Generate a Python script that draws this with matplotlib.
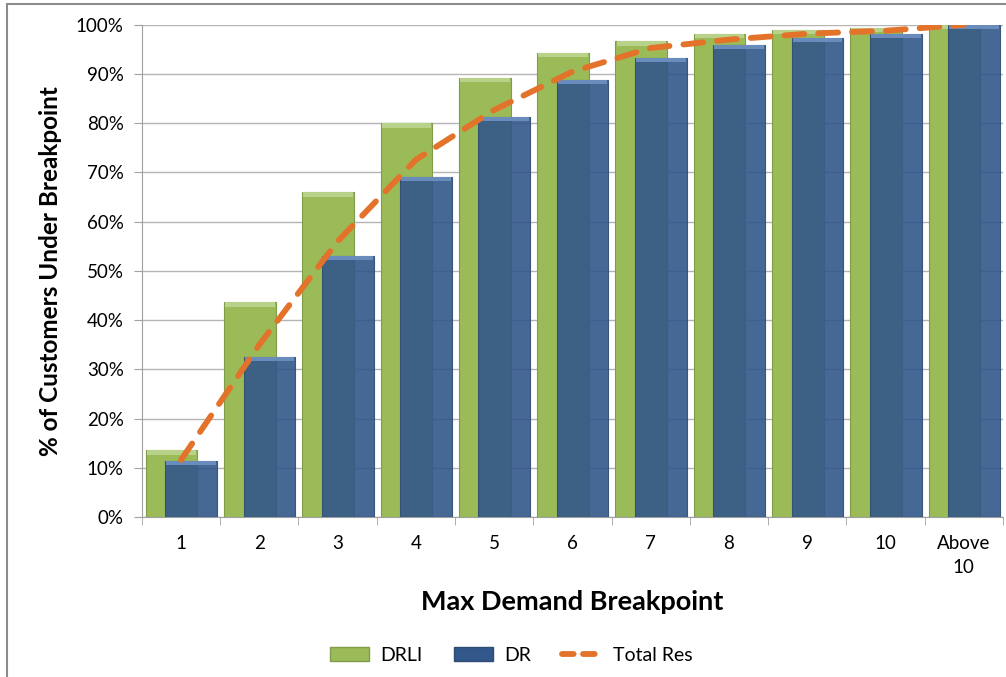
import matplotlib
matplotlib.use('Agg')
import matplotlib.pyplot as plt
import numpy as np
from matplotlib.patches import Rectangle
from matplotlib.lines import Line2D
from matplotlib.ticker import FuncFormatter, FixedLocator

# data (% of customers)
categories = ['1', '2', '3', '4', '5', '6', '7', '8', '9', '10', 'Above\n10']
drli = [13.6, 43.6, 66.0, 80.0, 89.2, 94.3, 96.7, 98.2, 99.0, 99.4, 100.0]
dr = [11.4, 32.5, 53.1, 69.1, 81.3, 88.8, 93.3, 95.9, 97.4, 98.2, 100.0]
total_res = [11.6, 35.0, 56.0, 72.6, 82.7, 90.5, 95.3, 97.0, 98.2, 98.8, 100.0]

plt.rcParams['font.family'] = ['Lato', 'DejaVu Sans']

green = '#9BBB59'
blue = (50 / 255, 87 / 255, 138 / 255)
orange = '#E3722A'

fig = plt.figure(figsize=(10.06, 6.77), dpi=100)
ax = fig.add_axes([0.141, 0.2363, 0.856, 0.727])

x = np.arange(len(categories))
w = 0.66
ax.bar(x - 0.12, drli, width=w, color=green, edgecolor='#809C48', linewidth=0.8, zorder=2)
ax.bar(x - 0.12, [0.9] * len(x), bottom=np.array(drli) - 0.9, width=w * 0.96,
       color='#B9D28A', linewidth=0, zorder=2.1)
ax.bar(x + 0.13, dr, width=w, color=blue, alpha=0.9, edgecolor='#2F4C73', linewidth=0.8, zorder=3)
ax.bar(x + 0.13, [0.8] * len(x), bottom=np.array(dr) - 0.8, width=w * 0.96,
       color='#6A8CBC', linewidth=0, zorder=3.1)
ax.plot(x, total_res, color=orange, linewidth=4.2, linestyle=(0, (3.4, 2.4)),
        dash_capstyle='round', zorder=4)

ax.set_xlim(-0.5, len(x) - 0.5)
ax.set_ylim(0, 100)
ax.set_yticks(np.arange(0, 101, 10))
ax.yaxis.set_major_formatter(FuncFormatter(lambda v, p: f'{v:.0f}%'))
ax.grid(axis='y', color='#B5B5B5', linewidth=1.0, zorder=0)
ax.set_axisbelow(True)

ax.set_xticks(x)
ax.set_xticklabels(categories, linespacing=1.5, va='top')
ax.xaxis.set_minor_locator(FixedLocator(np.arange(-0.5, len(x), 1.0)))
ax.tick_params(axis='x', which='major', length=0, pad=13, labelsize=13.5, colors='black')
ax.tick_params(axis='x', which='minor', length=6, color='#A0A0A0')
ax.tick_params(axis='y', length=6, color='#A0A0A0', labelsize=13.5, pad=7)

for s in ['top', 'right']:
    ax.spines[s].set_visible(False)
ax.spines['left'].set_color('#A0A0A0')
ax.spines['bottom'].set_color('#A0A0A0')

ax.set_ylabel('% of Customers Under Breakpoint', fontsize=17.5, fontweight='bold', labelpad=10)
ax.set_xlabel('Max Demand Breakpoint', fontsize=19.5, fontweight='bold', labelpad=10)

handles = [
    Rectangle((0, 0), 1, 1, facecolor=green, edgecolor='#809C48'),
    Rectangle((0, 0), 1, 1, facecolor=blue, edgecolor='#2F4C73'),
    Line2D([0], [0], color=orange, linewidth=4.2, linestyle=(0, (2.0, 1.6)),
           dash_capstyle='round'),
]
fig.legend(handles, ['DRLI', 'DR', 'Total Res'], loc='center', bbox_to_anchor=(0.508, 0.032),
           ncol=3, frameon=False, fontsize=14, handlelength=2.0, columnspacing=1.6,
           handletextpad=0.6)

# chart frame (left and top edges visible)
fig.patches.append(Rectangle((7 / 1006, -0.1), 1.2, 1 - 4 / 677 + 0.1, transform=fig.transFigure,
                             fill=False, edgecolor='#8C8C8C', linewidth=1.5))

fig.savefig('out.png', dpi=100)
